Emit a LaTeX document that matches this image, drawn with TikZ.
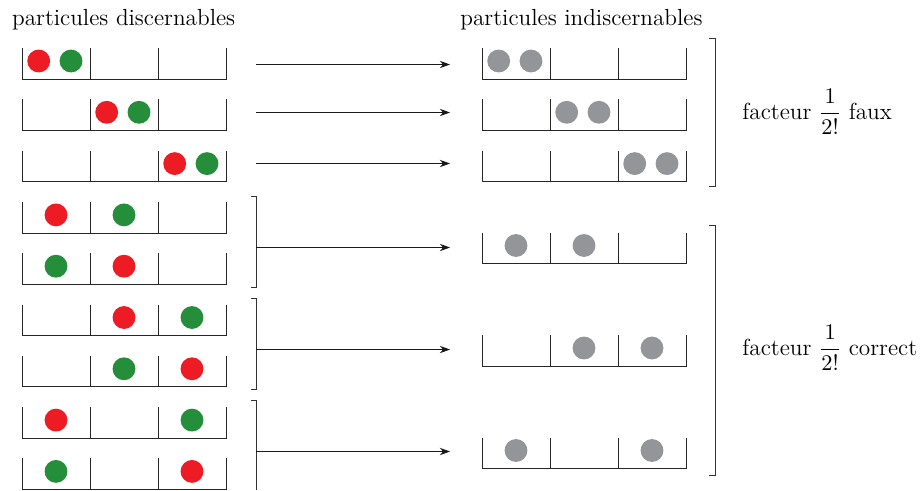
\documentclass[tikz,border=0pt]{standalone}
\usepackage{amsmath}
\usetikzlibrary{arrows.meta}
\definecolor{rouge}{RGB}{237,28,36}
\definecolor{vert}{RGB}{37,142,59}
\definecolor{gris}{RGB}{147,149,152}
\begin{document}
\begin{tikzpicture}[x=0.49pt,y=-0.49pt,
    font=\fontsize{11.4}{13.6}\selectfont,
    trait/.style={black!85,line width=0.4pt},
    fleche/.style={-{Stealth[length=5pt,width=3.6pt]},black!90,line width=0.45pt},
    crochet/.style={black!80,line width=0.45pt},
    boule/.style={circle,inner sep=0pt,minimum size=11.2pt}]
\useasboundingbox (0,0) rectangle (921,490);
% titres
\node[anchor=base west,inner sep=0pt] (titreG) at (11.7,25) {particules discernables};
\node[anchor=base west,inner sep=0pt] (titreD) at (460,25) {particules indiscernables};
% boites de gauche
\foreach \k in {0,...,8}{
  \pgfmathsetmacro\b{79+51.3*\k}
  \draw[trait] (22,{\b-31}) -- (22,\b) -- (226,\b) -- (226,{\b-31})
    (90,\b) -- (90,{\b-31}) (158,\b) -- (158,{\b-31});
}
% boites de droite
\foreach \b in {79,130.3,181.6,263.5,366,468.5}{
  \draw[trait] (482,{\b-31}) -- (482,\b) -- (686,\b) -- (686,{\b-31})
    (550,\b) -- (550,{\b-31}) (618,\b) -- (618,{\b-31});
}
% particules discernables
\foreach \x/\k/\c in {38.7/0/rouge, 71/0/vert, 106.7/1/rouge, 139/1/vert,
    174.7/2/rouge, 207/2/vert, 56/3/rouge, 124/3/vert, 56/4/vert, 124/4/rouge,
    124/5/rouge, 192/5/vert, 124/6/vert, 192/6/rouge, 56/7/rouge, 192/7/vert,
    56/8/vert, 192/8/rouge}
  \node[boule,fill=\c] at (\x,{61+51.3*\k}) {};
% particules indiscernables
\foreach \x/\y in {498.7/61, 531/61, 566.7/112.3, 599/112.3, 634.7/163.6, 667/163.6,
    516/245.5, 584/245.5, 584/348, 652/348, 516/450.5, 652/450.5}
  \node[boule,fill=gris] at (\x,\y) {};
% crochets
\draw[crochet] (251,196.7) -| (256,287.3) -- (251,287.3);
\draw[crochet] (251,298.3) -| (256,389.3) -- (251,389.3);
\draw[crochet] (251,400.7) -| (256,490);
\draw[crochet] (709,38) -| (715,186.7) -- (709,186.7);
\draw[crochet] (709,225) -| (715,475) -- (709,475);
% fleches
\foreach \y [count=\i] in {64.5,112.5,163.5,247.5,349.5,451.5}{
  \coordinate (g\i) at (256,\y);
  \coordinate (d\i) at (450,\y);
  \draw[fleche] (g\i) -- (d\i);
}
\node[anchor=west,inner sep=0pt] (faux) at (742,112) {facteur $\dfrac{1}{2!}$ faux};
\node[anchor=west,inner sep=0pt] (correct) at (742,348) {facteur $\dfrac{1}{2!}$ correct};
\end{tikzpicture}
\end{document}
